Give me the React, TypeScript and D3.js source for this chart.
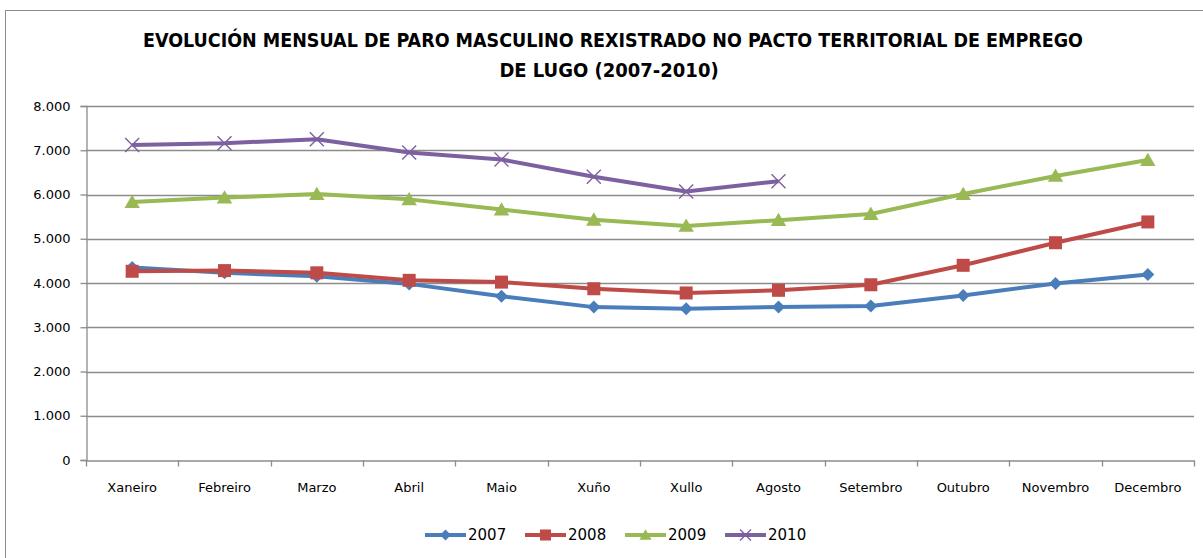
import React, { useEffect, useRef } from 'react';
import * as d3 from 'd3';

const months = ['Xaneiro', 'Febreiro', 'Marzo', 'Abril', 'Maio', 'Xuño', 'Xullo', 'Agosto', 'Setembro', 'Outubro', 'Novembro', 'Decembro'];
const yTicks = [0, 1000, 2000, 3000, 4000, 5000, 6000, 7000, 8000];

const paro2007 = [4350, 4230, 4150, 3980, 3700, 3455, 3420, 3460, 3480, 3720, 3990, 4190];
const paro2008 = [4265, 4280, 4230, 4060, 4020, 3870, 3775, 3835, 3960, 4400, 4910, 5380];
const paro2009 = [5830, 5930, 6010, 5890, 5660, 5430, 5290, 5420, 5560, 6010, 6420, 6780];
const paro2010 = [7120, 7160, 7250, 6950, 6790, 6400, 6070, 6300];

const series = [
  { name: '2007', values: paro2007, color: '#4A7EBB', marker: 'diamond' },
  { name: '2008', values: paro2008, color: '#BE4B48', marker: 'square' },
  { name: '2009', values: paro2009, color: '#98B954', marker: 'triangle' },
  { name: '2010', values: paro2010, color: '#7D60A0', marker: 'x' },
];

const W = 1203;
const H = 558;

const App = () => {
  const svgRef = useRef<SVGSVGElement>(null);

  useEffect(() => {
    const margin = { top: 106, right: 9, bottom: 98, left: 86 };
    const width = W - margin.left - margin.right;
    const height = H - margin.top - margin.bottom;

    const root = d3.select(svgRef.current);
    root.selectAll('*').remove();

    // outer chart frame
    root.append('rect')
      .attr('x', 5.5).attr('y', 10.5)
      .attr('width', 1220).attr('height', 600)
      .attr('fill', 'white')
      .attr('stroke', '#8c8c8c');

    // title
    const title = root.append('text')
      .attr('text-anchor', 'middle')
      .style('font-family', '"Liberation Sans Narrow", "DejaVu Sans Condensed", sans-serif')
      .style('font-weight', 'bold')
      .style('font-size', '20px')
      .attr('fill', '#000');
    title.append('tspan').attr('x', 613).attr('y', 47)
      .attr('textLength', 940).attr('lengthAdjust', 'spacingAndGlyphs')
      .text('EVOLUCIÓN MENSUAL DE PARO MASCULINO REXISTRADO NO PACTO TERRITORIAL DE EMPREGO');
    title.append('tspan').attr('x', 609).attr('y', 77)
      .text('DE LUGO (2007-2010)');

    const svg = root.append('g')
      .attr('transform', `translate(${margin.left},${margin.top})`);

    const x = d3.scaleBand().domain(months).range([0, width]);
    const y = d3.scaleLinear().domain([0, 8000]).range([height, 0]);
    const fmt = (v: number) => (v === 0 ? '0' : d3.format(',')(v).replace(',', '.'));

    // gridlines
    svg.append('g')
      .selectAll('line')
      .data(yTicks.filter(t => t > 0))
      .enter().append('line')
      .attr('x1', 0).attr('x2', width)
      .attr('y1', d => Math.round(y(d)) + 0.5).attr('y2', d => Math.round(y(d)) + 0.5)
      .attr('stroke', '#8c8c8c').attr('stroke-width', 1.3);

    // y axis
    const yAxis = svg.append('g')
      .attr('transform', 'translate(0.5,0)')
      .call(d3.axisLeft(y).tickValues(yTicks).tickSize(6).tickPadding(10).tickFormat(d => fmt(+d)));
    yAxis.select('.domain').attr('stroke', '#8c8c8c').attr('stroke-width', 1.3);
    yAxis.selectAll('line').attr('stroke', '#8c8c8c').attr('stroke-width', 1.3);
    yAxis.selectAll('text')
      .style('font-family', '"DejaVu Sans", Verdana, sans-serif')
      .style('font-size', '13px')
      .attr('fill', '#000');

    // x axis
    const xAxis = svg.append('g')
      .attr('transform', `translate(0,${Math.round(height) + 0.5})`)
      .call(d3.axisBottom(x).tickSize(0).tickPadding(22));
    xAxis.select('.domain').attr('stroke', '#8c8c8c').attr('stroke-width', 1.3);
    xAxis.selectAll('text')
      .style('font-family', '"DejaVu Sans", Verdana, sans-serif')
      .style('font-size', '13px')
      .attr('fill', '#000');
    xAxis.append('g')
      .selectAll('line')
      .data(d3.range(months.length + 1))
      .enter().append('line')
      .attr('x1', i => Math.round(i * x.step()) + 0.5).attr('x2', i => Math.round(i * x.step()) + 0.5)
      .attr('y1', 0).attr('y2', 6)
      .attr('stroke', '#8c8c8c').attr('stroke-width', 1.3);

    const cx = (i: number) => (x(months[i]) as number) + x.bandwidth() / 2;

    const line = d3.line<number>()
      .x((d, i) => cx(i))
      .y(d => y(d));

    const drawMarker = (g: any, kind: string, color: string, size: number) => {
      if (kind === 'diamond') {
        g.append('path').attr('d', `M0,${-size}L${size},0L0,${size}L${-size},0Z`).attr('fill', color);
      } else if (kind === 'square') {
        g.append('rect').attr('x', -size).attr('y', -size).attr('width', size * 2).attr('height', size * 2).attr('fill', color);
      } else if (kind === 'triangle') {
        g.append('path').attr('d', `M0,${-size * 1.05}L${size * 1.1},${size * 0.85}L${-size * 1.1},${size * 0.85}Z`).attr('fill', color);
      } else {
        g.append('path').attr('d', `M${-size},${-size}L${size},${size}M${size},${-size}L${-size},${size}`)
          .attr('stroke', color).attr('stroke-width', 1.4).attr('fill', 'none');
      }
    };

    const markerSize: Record<string, number> = { diamond: 6.5, square: 6.5, triangle: 7, x: 7 };

    series.forEach(s => {
      svg.append('path')
        .datum(s.values)
        .attr('fill', 'none')
        .attr('stroke', s.color)
        .attr('stroke-width', 4)
        .attr('stroke-linejoin', 'round')
        .attr('d', line);
      s.values.forEach((v, i) => {
        const g = svg.append('g').attr('transform', `translate(${cx(i)},${y(v)})`);
        drawMarker(g, s.marker, s.color, markerSize[s.marker]);
      });
    });

    // legend
    const legend = root.append('g').attr('transform', 'translate(425,535)');
    const legendStep = [0, 100, 200, 300];
    series.forEach((s, i) => {
      const g = legend.append('g').attr('transform', `translate(${legendStep[i]},0)`);
      g.append('line').attr('x1', 0).attr('x2', 41).attr('y1', 0).attr('y2', 0)
        .attr('stroke', s.color).attr('stroke-width', 4);
      const m = g.append('g').attr('transform', 'translate(20.5,0)');
      drawMarker(m, s.marker, s.color, 5.5);
      g.append('text')
        .attr('x', 43).attr('y', 0).attr('dy', '0.35em')
        .style('font-family', '"DejaVu Sans", Verdana, sans-serif')
        .style('font-size', '15px')
        .attr('fill', '#000')
        .text(s.name);
    });
  }, []);

  return (
    <svg ref={svgRef} width={W} height={H} style={{ position: 'absolute', left: 0, top: 0, background: 'white' }} />
  );
};

export default App;
